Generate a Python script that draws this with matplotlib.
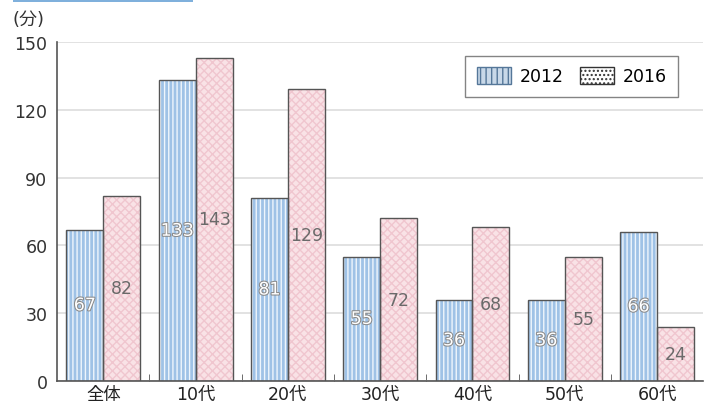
import matplotlib
matplotlib.use("Agg")
import matplotlib.pyplot as plt
import matplotlib.patheffects as pe
from matplotlib.patches import Patch, Rectangle
import numpy as np

plt.rcParams['font.family'] = ['DejaVu Sans', 'Noto Sans CJK JP']
plt.rcParams['hatch.linewidth'] = 1.0

# データ
categories = ["全体", "10代", "20代", "30代", "40代", "50代", "60代"]
values_2012 = [67, 133, 81, 55, 36, 36, 66]
values_2016 = [82, 143, 129, 72, 68, 55, 24]
yticks = [0, 30, 60, 90, 120, 150]

fig = plt.figure(figsize=(7.06, 4.06), dpi=100)
ax = fig.add_axes([0.081, 0.059, 0.915, 0.835])

x = np.arange(len(categories))
w = 0.4

# 2012: 青地に白い縦線
ax.bar(x - w/2, values_2012, w, color="#9fc2e6", edgecolor="#eef5fc", hatch="||||", linewidth=0, zorder=2)
ax.bar(x - w/2, values_2012, w, fill=False, edgecolor="#555555", linewidth=1.0, zorder=3)
# 2016: ピンク地に格子
ax.bar(x + w/2, values_2016, w, color="#f9e2e6", edgecolor="#f0c6cf", hatch="xxxx", linewidth=0, zorder=2)
ax.bar(x + w/2, values_2016, w, fill=False, edgecolor="#555555", linewidth=1.0, zorder=3)

# 値ラベル
for xi, v in zip(x, values_2012):
    ax.text(xi - w/2, v/2, str(v), ha="center", va="center", fontsize=12.5, color="white", zorder=4,
            path_effects=[pe.withStroke(linewidth=1.5, foreground="#8a8a8a")])
for xi, v in zip(x, values_2016):
    ax.text(xi + w/2, v/2, str(v), ha="center", va="center", fontsize=12.5, color="#6a6a6a", zorder=4)

ax.set_xlim(-0.5, len(categories) - 0.5)
ax.set_ylim(0, 150)
ax.set_yticks(yticks)
ax.set_yticklabels([str(t) for t in yticks], fontsize=12.5, color="#333333")
ax.set_xticks(x)
ax.set_xticklabels(categories, fontsize=12.5, color="#222222")
ax.tick_params(axis="x", length=0, pad=3)
ax.tick_params(axis="y", length=0, pad=7)
# グループ間の小さい目盛り
ax.set_xticks(np.arange(0.5, len(categories) - 0.5, 1), minor=True)
ax.tick_params(axis="x", which="minor", direction="in", length=5, color="#555555")

ax.grid(axis="y", color="#dddddd", linewidth=1.2, zorder=0)
ax.set_axisbelow(True)
for s in ["top", "right"]:
    ax.spines[s].set_visible(False)
ax.spines["left"].set_color("#555555")
ax.spines["bottom"].set_color("#555555")
ax.spines["left"].set_linewidth(1.2)
ax.spines["bottom"].set_linewidth(1.2)

fig.text(0.018, 0.95, "(分)", fontsize=13, color="#333333", va="center")

handles = [Patch(facecolor="#c8d8e8", edgecolor="#557799", hatch="|||", label="2012"),
           Patch(facecolor="white", edgecolor="#333333", hatch="....", label="2016")]
leg = ax.legend(handles=handles, loc="upper right", bbox_to_anchor=(0.975, 0.985), ncol=2,
                fontsize=12.5, frameon=True, fancybox=False, handlelength=2.0, handleheight=1.1,
                columnspacing=0.9, handletextpad=0.5, borderpad=0.65)
leg.get_frame().set_edgecolor("#666666")
leg.get_frame().set_linewidth(1.0)

# 上部の青い帯
fig.patches.append(Rectangle((0.018, 0.993), 0.255, 0.01, transform=fig.transFigure,
                             facecolor="#7fb0dc", edgecolor="none"))

fig.savefig("out.png", dpi=100)
